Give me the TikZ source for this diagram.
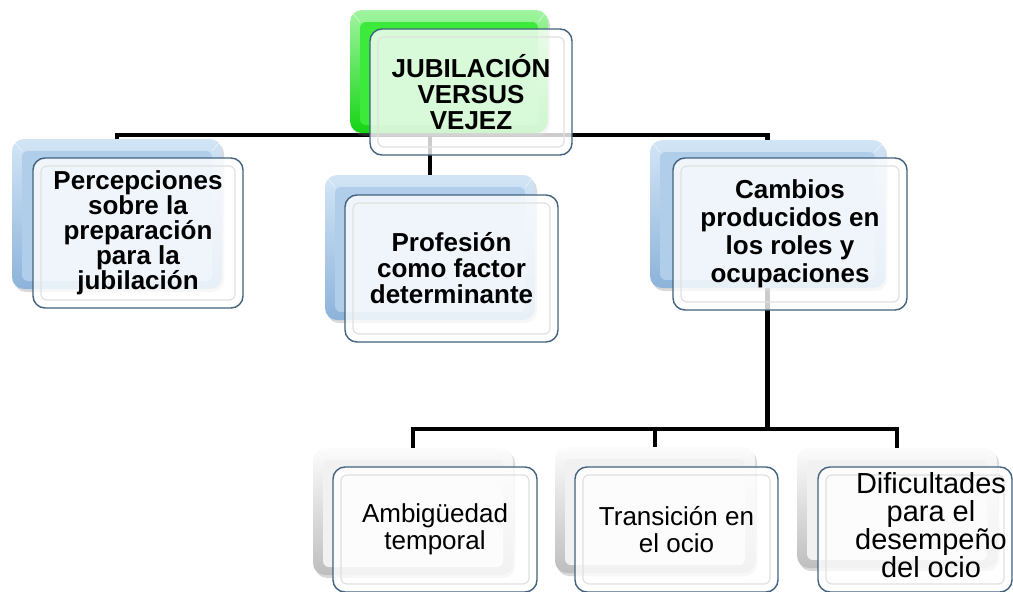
\documentclass[tikz,border=0pt]{standalone}
\usepackage{fontspec}
\setmainfont{Liberation Sans}
\usetikzlibrary{shadows}
\definecolor{blueEdge}{HTML}{8DB3DA}
\definecolor{blueTop}{HTML}{D2E5F6}
\definecolor{blueMid}{HTML}{B0CDEA}
\definecolor{greenEdge}{HTML}{14D414}
\definecolor{greenTop}{HTML}{A0F5A0}
\definecolor{greenMid}{HTML}{3CEA3C}
\definecolor{grayEdge}{HTML}{BEBEBE}
\definecolor{grayTop}{HTML}{FCFCFC}
\definecolor{grayMid}{HTML}{F1F1F1}
\definecolor{frontBorder}{HTML}{42627F}
\pgfdeclarelayer{bg}
\pgfsetlayers{bg,main}
\tikzset{
  backbox/.style n args={3}{rectangle, rounded corners=12pt, inner sep=0pt,
    top color=#2, bottom color=#1,
    drop shadow={opacity=0.3, shadow xshift=2pt, shadow yshift=-3pt},
    path picture={
      \fill[#3, rounded corners=6pt]
        ([shift={(10pt,-12pt)}]path picture bounding box.north west) rectangle
        ([shift={(-10pt,8pt)}]path picture bounding box.south east);
      \draw[white, opacity=0.5, line width=0.8pt]
        (path picture bounding box.north west) -- ([shift={(10pt,-12pt)}]path picture bounding box.north west)
        (path picture bounding box.north east) -- ([shift={(-10pt,-12pt)}]path picture bounding box.north east);
    }},
  bluebox/.style={backbox={blueEdge}{blueTop}{blueMid}},
  greenbox/.style={backbox={greenEdge}{greenTop}{greenMid}},
  graybox/.style={backbox={grayEdge}{grayTop}{grayMid}},
  frontbox/.style={rectangle, rounded corners=12pt, inner sep=0pt,
    draw=frontBorder, line width=1.4pt, fill=white, fill opacity=0.8,
    text opacity=1, draw opacity=1, align=center,
    path picture={
      \draw[black!12, line width=1.2pt, rounded corners=6pt]
        ([shift={(8pt,-8pt)}]path picture bounding box.north west) rectangle
        ([shift={(-8pt,8pt)}]path picture bounding box.south east);
    }},
  boldtxt/.style={font=\bfseries\fontsize{26}{#1}\selectfont},
  regtxt/.style={font=\fontsize{26}{#1}\selectfont},
  conn/.style={draw=black, line width=4.6pt},
}
\begin{document}
\begin{tikzpicture}[x=1pt,y=-1pt]
\useasboundingbox (0,0) rectangle (1013,592);

% root
\node[greenbox, minimum width=198, minimum height=123] (rootB) at (449,71.5) {};
\node[frontbox, boldtxt=26, minimum width=202, minimum height=126] (rootF) at (471,92)
  {JUBILACIÓN\\VERSUS\\VEJEZ};

% level 1
\node[bluebox, minimum width=210, minimum height=150] (percB) at (117,214) {};
\node[frontbox, boldtxt=25, minimum width=210, minimum height=150] (percF) at (138,233)
  {Percepciones\\sobre la\\preparación\\para la\\jubilación};

\node[bluebox, minimum width=210, minimum height=145] (profB) at (430,247.5) {};
\node[frontbox, boldtxt=26, minimum width=213, minimum height=147] (profF) at (451.5,268.5)
  {Profesión\\como factor\\determinante};

\node[bluebox, minimum width=235, minimum height=148] (cambB) at (767.5,214) {};
\node[frontbox, boldtxt=28, minimum width=234, minimum height=152] (cambF) at (790,234)
  {Cambios\\producidos en\\los roles y\\ocupaciones};

% level 2
\coordinate (topbus) at (0,135);
\coordinate (bus) at (0,429);
\node[graybox, minimum width=200, minimum height=127] (ambB) at (413,511.5) {};
\node[frontbox, regtxt=27, minimum width=204, minimum height=125] (ambF) at (435,529.5)
  {Ambigüedad\\temporal};

\node[graybox, minimum width=200, minimum height=126] (tranB) at (655,510) {};
\node[frontbox, regtxt=27, minimum width=203, minimum height=125] (tranF) at (676.5,529.5)
  {Transición en\\el ocio};

\node[graybox, minimum width=200, minimum height=120] (difB) at (897,508) {};
\node[frontbox, minimum width=194, minimum height=125] (difF) at (915,529.5) {};
\node[align=center, inner sep=0pt, font=\fontsize{29}{28}\selectfont] (difT) at (931,525)
  {Dificultades\\para el\\desempeño\\del ocio};

% connectors
\begin{pgfonlayer}{bg}
\draw[conn] (percB.north) -- (percB.north |- topbus) -- (cambB.north |- topbus) -- (cambB.north);
\draw[conn] (profB.north |- topbus) -- (profB.north);
\draw[conn] (cambB.south) -- (cambB.south |- bus);
\draw[conn] (ambB.north) -- (ambB.north |- bus) -- (difB.north |- bus) -- (difB.north);
\draw[conn] (tranB.north |- bus) -- (tranB.north);
\end{pgfonlayer}
\end{tikzpicture}
\end{document}
